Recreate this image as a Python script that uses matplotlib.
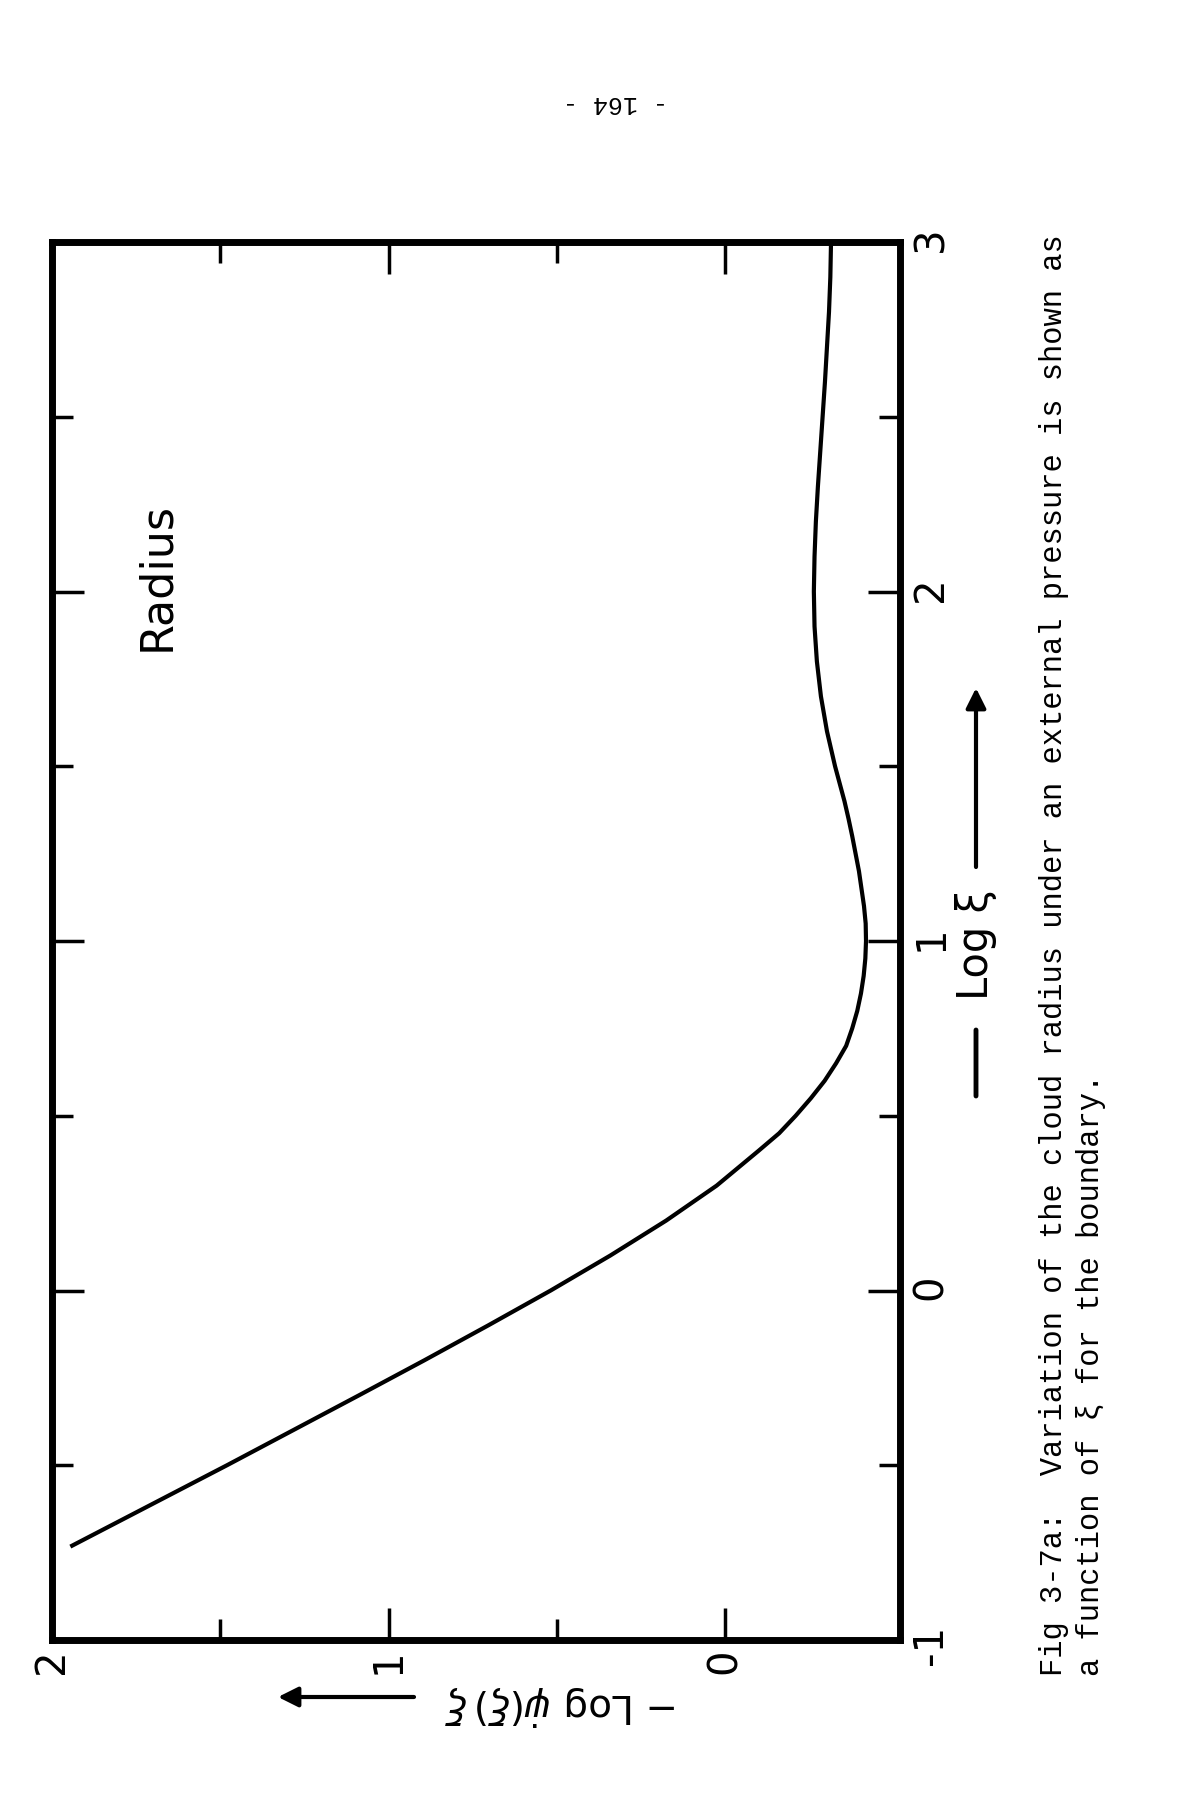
import matplotlib
matplotlib.use('Agg')
import matplotlib.pyplot as plt
from matplotlib.ticker import FixedLocator, NullFormatter

# curve: Log xi (runs up the page) against -Log psi'(xi) xi (runs across the page)
log_xi = [-0.73, -0.6, -0.5, -0.4, -0.3, -0.2, -0.1, 0.0, 0.1, 0.2, 0.3, 0.4,
          0.45, 0.5, 0.55, 0.6, 0.65, 0.7, 0.75, 0.8, 0.85, 0.9, 0.95, 1.0,
          1.05, 1.1, 1.2, 1.3, 1.35, 1.4, 1.5, 1.6, 1.7, 1.8, 1.9, 2.0, 2.1,
          2.2, 2.3, 2.4, 2.5, 2.6, 2.7, 2.8, 2.9, 3.0]
neg_log_psi = [1.94, 1.68, 1.48, 1.284, 1.088, 0.894, 0.704, 0.518, 0.341,
               0.175, 0.025, -0.10, -0.161, -0.21, -0.255, -0.296, -0.330,
               -0.360, -0.378, -0.393, -0.404, -0.412, -0.417, -0.419, -0.418,
               -0.413, -0.398, -0.378, -0.367, -0.355, -0.327, -0.303, -0.285,
               -0.273, -0.266, -0.264, -0.266, -0.270, -0.276, -0.283, -0.290,
               -0.297, -0.303, -0.309, -0.313, -0.315]

xi_ticks = [-1, 0, 1, 2, 3]
xi_minor = [-0.5, 0.5, 1.5, 2.5]
psi_ticks = [2, 1, 0]
psi_minor = [1.5, 0.5]

caption = ["Fig 3-7a:  Variation of the cloud radius under an external pressure is shown as",
           "a function of \u03be for the boundary."]


def px(x, y):
    # page pixel -> figure fraction
    return x / 1200, 1 - y / 1800


def main():
    fig = plt.figure(figsize=(12, 18), dpi=100)
    ax = fig.add_axes([52 / 1200, 1 - 1640 / 1800, 848 / 1200, 1398 / 1800])

    ax.plot(neg_log_psi, log_xi, color='black', lw=3)
    ax.set_xlim(2, -0.52)
    ax.set_ylim(-1, 3)

    for s in ax.spines.values():
        s.set_linewidth(5)

    ax.xaxis.set_major_locator(FixedLocator(psi_ticks))
    ax.xaxis.set_minor_locator(FixedLocator(psi_minor))
    ax.yaxis.set_major_locator(FixedLocator(xi_ticks))
    ax.yaxis.set_minor_locator(FixedLocator(xi_minor))
    ax.xaxis.set_minor_formatter(NullFormatter())
    ax.yaxis.set_minor_formatter(NullFormatter())
    ax.set_xticklabels([str(t) for t in psi_ticks])
    ax.set_yticklabels([str(t) for t in xi_ticks])

    ax.tick_params(which='both', direction='in', top=True, bottom=True,
                   left=True, right=True, labelleft=False, labelright=True,
                   labelsize=29, width=2.5)
    ax.tick_params(which='major', length=23)
    ax.tick_params(which='minor', length=15)
    ax.tick_params(axis='x', labelrotation=90, pad=6)
    ax.tick_params(axis='y', labelrotation=90, pad=8)

    fig.text(*px(157, 577), 'Radius', rotation=90, fontsize=32,
             ha='center', va='center')

    # x label on the right: dash, "Log xi", arrow
    fig.text(*px(976, 945), 'Log \u03be', rotation=90, fontsize=30,
             ha='center', va='center')
    ax.annotate('', xy=px(976, 1030), xytext=px(976, 1096),
                xycoords='figure fraction', textcoords='figure fraction',
                arrowprops=dict(arrowstyle='-', lw=3.5, color='black',
                                shrinkA=0, shrinkB=0))
    ax.annotate('', xy=px(976, 688), xytext=px(976, 867),
                xycoords='figure fraction', textcoords='figure fraction',
                arrowprops=dict(arrowstyle='-|>', lw=3, color='black',
                                mutation_scale=30, shrinkA=0, shrinkB=0))

    # y label below, upside down
    fig.text(*px(561, 1705), r'$-$ Log $\dot{\psi}(\xi)\,\xi$', rotation=180,
             fontsize=28, ha='center', va='center')
    ax.annotate('', xy=px(278, 1697), xytext=px(414, 1697),
                xycoords='figure fraction', textcoords='figure fraction',
                arrowprops=dict(arrowstyle='-|>', lw=3, color='black',
                                mutation_scale=30, shrinkA=0, shrinkB=0))

    fig.text(*px(1054, 1676), caption[0], rotation=90, family='Liberation Mono',
             fontsize=22, ha='center', va='bottom')
    fig.text(*px(1091, 1676), caption[1], rotation=90, family='Liberation Mono',
             fontsize=22, ha='center', va='bottom')

    fig.text(*px(616, 103), '- 164 -', rotation=180, family='Liberation Mono',
             fontsize=18, ha='center', va='center')

    fig.savefig('out.png', dpi=100, facecolor='white')


if __name__ == "__main__":
    main()
